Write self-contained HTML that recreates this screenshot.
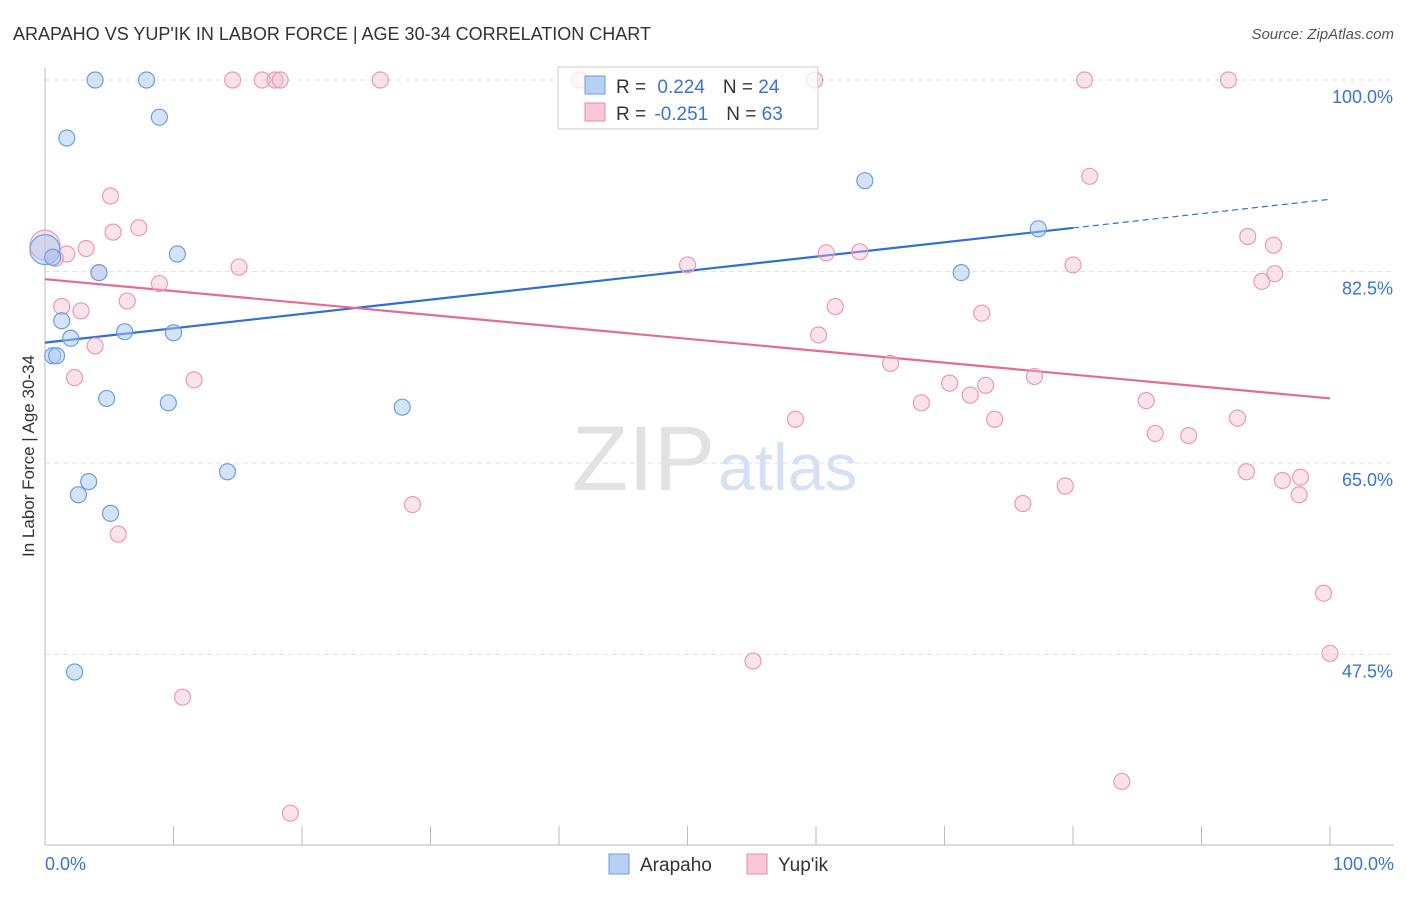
<!DOCTYPE html>
<html><head><meta charset="utf-8"><style>
body{margin:0;background:#fff;font-family:"Liberation Sans",sans-serif;}
svg text{font-family:"Liberation Sans",sans-serif;}
</style></head><body>
<svg width="1406" height="892" viewBox="0 0 1406 892" xmlns="http://www.w3.org/2000/svg">
<text x="13" y="40" font-size="18" fill="#333">ARAPAHO VS YUP'IK IN LABOR FORCE | AGE 30-34 CORRELATION CHART</text>
<text x="1394" y="39" font-size="15" fill="#555" text-anchor="end" font-style="italic">Source: ZipAtlas.com</text>
<text x="715" y="490" font-size="92" fill="#e2e2e2" font-family="Liberation Serif" text-anchor="end">ZIP</text>
<text x="718" y="490" font-size="66" fill="#d6e2f4">atlas</text>
<g id="grid"></g>
<g id="axes"></g>
<g id="lines"></g>
<g id="pts"></g>
<text transform="translate(34,456) rotate(-90)" font-size="17" fill="#333" text-anchor="middle">In Labor Force | Age 30-34</text>
<g>
<rect x="558" y="67" width="260" height="62" fill="#fff" fill-opacity="0.75" stroke="#ccc"/>
<rect x="585" y="76" width="20" height="18" fill="#b8d0f4" stroke="#6c9fe0"/>
<text x="616" y="93" font-size="19" fill="#333">R = <tspan fill="#3a74d0" dx="6">0.224</tspan><tspan dx="18">N = </tspan><tspan fill="#3a74d0">24</tspan></text>
<rect x="585" y="103" width="20" height="18" fill="#f8c8d8" stroke="#e88aaa"/>
<text x="616" y="120" font-size="19" fill="#333">R = <tspan fill="#3a74d0" dx="3">-0.251</tspan><tspan dx="18">N = </tspan><tspan fill="#3a74d0">63</tspan></text>
</g>
<g>
<rect x="609" y="854" width="20" height="20" fill="#b8d0f4" stroke="#6c9fe0"/>
<text x="640" y="871" font-size="19" fill="#333">Arapaho</text>
<rect x="747" y="854" width="20" height="20" fill="#f8c8d8" stroke="#e88aaa"/>
<text x="778" y="871" font-size="19" fill="#333">Yup'ik</text>
</g>
</svg>
<script>
const yTicks=[100,82.5,65,47.5];
const yTickLabels=["100.0%","82.5%","65.0%","47.5%"];
const arapahoX=[3.9,7.9,1.7,8.9,0,0.6,4.2,10.3,1.3,2.0,6.2,10.0,0.6,0.9,4.8,9.6,27.8,14.2,3.4,2.6,5.1,2.3,63.8,71.3,77.3];
const arapahoY=[100,100,94.7,96.6,84.5,83.8,82.4,84.1,78.0,76.4,77.0,76.9,74.8,74.8,70.9,70.5,70.1,64.2,63.3,62.1,60.4,45.9,90.8,82.4,86.4];
const arapahoR=[8,8,8,8,15,8,8,8,8,8,8,8,8,8,8,8,8,8,8,8,8,8,8,8,8];
const yupikX=[14.6,16.9,17.9,18.3,26.1,41.6,59.9,80.9,92.1,5.1,7.3,5.3,3.2,1.7,0.8,4.2,8.9,15.1,1.3,2.8,6.4,3.9,2.3,11.6,5.7,10.7,19.1,28.6,50.0,60.8,63.4,61.5,60.2,65.8,58.4,68.2,70.4,72.0,73.2,72.9,73.9,77.0,80.0,81.3,93.6,95.6,94.7,95.7,85.7,86.4,89.0,92.8,76.1,79.4,93.5,96.3,97.7,97.6,99.5,100,55.1,83.8,0];
const yupikY=[100,100,100,100,100,100,100,100,100,89.4,86.5,86.1,84.6,84.1,83.7,82.4,81.4,82.9,79.3,78.9,79.8,75.7,72.8,72.6,58.5,43.6,33.0,61.2,83.1,84.2,84.3,79.3,76.7,74.1,69.0,70.5,72.3,71.2,72.1,78.7,69.0,72.9,83.1,91.2,85.7,84.9,81.6,82.3,70.7,67.7,67.5,69.1,61.3,62.9,64.2,63.4,63.7,62.1,53.1,47.6,46.9,35.9,84.9];
const blueTrend=[76.0,89.1];
const pinkTrend=[81.8,70.9];
const NS="http://www.w3.org/2000/svg";
const X=v=>45+v*12.85, Y=v=>80+(100-v)*10.943;
function mk(tag,attrs,parent){const e=document.createElementNS(NS,tag);for(const k in attrs)e.setAttribute(k,attrs[k]);document.getElementById(parent).appendChild(e);return e;}
yTicks.forEach((t,i)=>{
 const g=mk('line',{x1:45,x2:1394,y1:Y(t),y2:Y(t),stroke:'#e2e2e2','stroke-dasharray':'5,4'},'grid');
 
 
 const l=mk('text',{x:1393,y:Y(t)+23,'font-size':18,fill:'#3a74d0','text-anchor':'end'},'grid');
 l.textContent=yTickLabels[i];
 
 
});
const ax=mk('line',{x1:45,x2:45,y1:68,y2:845,stroke:'#bbb'},'axes');


const bx=mk('line',{x1:45,x2:1394,y1:845,y2:845,stroke:'#bbb'},'axes');


for(let i=1;i<=10;i++){const t=mk('line',{x1:X(i*10),x2:X(i*10),y1:826,y2:845,stroke:'#bbb'},'axes');
 
 }
[[0,"0.0%",'start',45],[100,"100.0%",'end',1394]].forEach(a=>{const t=mk('text',{x:a[3],y:870,'font-size':18,fill:'#3a74d0','text-anchor':a[2]},'axes');t.textContent=a[1];
 
 });
const b1=mk('line',{x1:X(0),y1:Y(blueTrend[0]),x2:X(80),y2:Y(blueTrend[0]+(blueTrend[1]-blueTrend[0])*0.8),stroke:'#2f6fd6','stroke-width':2.2},'lines');


const b2=mk('line',{x1:X(80),y1:Y(blueTrend[0]+(blueTrend[1]-blueTrend[0])*0.8),x2:X(100),y2:Y(blueTrend[1]),stroke:'#2f6fd6','stroke-width':1.2,'stroke-dasharray':'6,4'},'lines');


const p1=mk('line',{x1:X(0),y1:Y(pinkTrend[0]),x2:X(100),y2:Y(pinkTrend[1]),stroke:'#e56a96','stroke-width':2.2},'lines');


yupikX.forEach((x,i)=>{const c=mk('circle',{cx:X(x),cy:Y(yupikY[i]),r:i==yupikX.length-1?15:8,fill:'rgba(246,185,205,0.4)',stroke:'#e99ab5','stroke-width':1.2},'pts');
 
 });
arapahoX.forEach((x,i)=>{const c=mk('circle',{cx:X(x),cy:Y(arapahoY[i]),r:arapahoR[i],fill:'rgba(170,200,242,0.5)',stroke:'#6c9fe0','stroke-width':1.2},'pts');
 
 });
</script>
</body></html>
